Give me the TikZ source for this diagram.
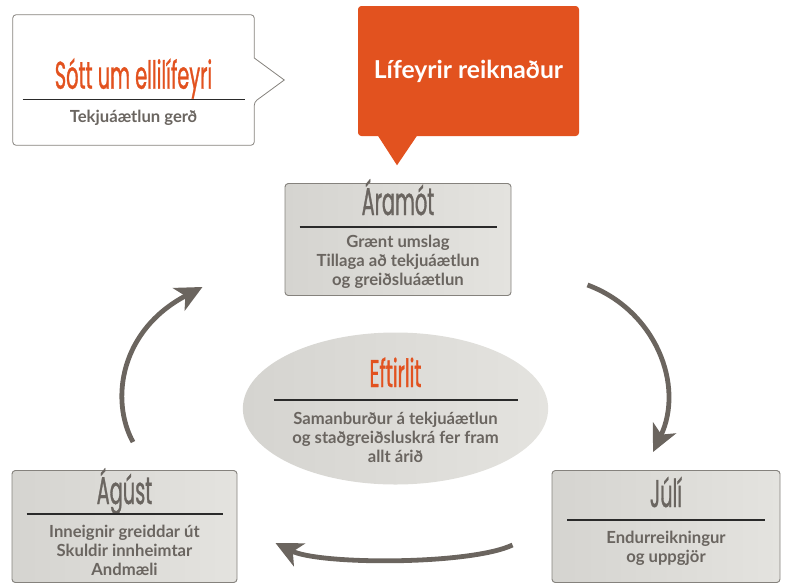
\documentclass[tikz,border=0pt]{standalone}
\usepackage{fontspec}
\setmainfont{Lato}
\newfontfamily\condfont[FakeStretch=0.5, FakeBold=0.8]{Poppins}
\usetikzlibrary{positioning,calc,arrows.meta,shapes.geometric}
\definecolor{lforange}{HTML}{E2521F}
\definecolor{lfgray}{HTML}{6A6560}
\definecolor{lfborder}{HTML}{85827D}
\definecolor{lfboxl}{HTML}{D5D4D0}
\definecolor{lfboxr}{HTML}{E4E3DF}
\definecolor{lfarrow}{HTML}{6B655F}
\definecolor{lfrule}{HTML}{2A2A2A}

\begin{document}
\begin{tikzpicture}[x=0.75pt,y=-0.75pt,
    graybox/.style={draw=lfborder, line width=0.7pt, rounded corners=2.5pt,
      left color=lfboxl, right color=lfboxr, minimum width=#1, minimum height=84pt},
    headtitle/.style={font=\condfont\fontsize{29}{32}\selectfont, text=lfgray, anchor=base,
      inner sep=0pt},
    bodytext/.style={font=\fontsize{12.5}{14.25}\selectfont\bfseries, text=lfgray, align=center},
    titlerule/.style={draw=lfrule, line width=1pt},
    cyclearrow/.style={draw=lfarrow, line width=3.6pt,
      -{Stealth[length=20pt,width=19pt,inset=5.5pt]}}]
    \useasboundingbox (0,0) rectangle (785,583);

    % callouts at the top
    \node (soett) at (133.5,80) [minimum width=180.75pt, minimum height=97.5pt] {};
    \draw[lfborder, line width=0.6pt, rounded corners=2.5pt] ($(soett.east)+(0,-22)$) -- (soett.north east)
        -- (soett.north west) -- (soett.south west) -- (soett.south east) -- ($(soett.east)+(0,22)$)
        [sharp corners] -- ($(soett.east)+(30,0)$) -- cycle;
    \node[headtitle, text=lforange] (soetttitle) at ($(soett.north)+(0,74)$) {Sótt um ellilífeyri};
    \draw[titlerule] ($(soett.north)+(-111,85)$) -- ($(soett.north)+(111,85)$);
    \node[bodytext] (soetttext) at ($(soett.north)+(0,103)$) {Tekjuáætlun gerð};

    \node (reikn) at (468.5,71) [fill=lforange, rounded corners=2.5pt, minimum width=165.75pt,
        minimum height=97.5pt, text=white, font=\fontsize{18.5}{21}\selectfont\bfseries] {Lífeyrir reiknaður};
    \fill[lforange] ($(reikn.south)+(-91.5,-2)$) -- ($(reikn.south)+(-71.5,29)$) -- ($(reikn.south)+(-50.5,-2)$) -- cycle;

    % the year
    \node[graybox=169.5pt] (aramot) at (398,239.5) {};
    \node[headtitle] (aramottitle) at ($(aramot.north)+(0,32)$) {Áramót};
    \draw[titlerule] ($(aramot.north)+(-98.5,44)$) -- ($(aramot.north)+(98.5,44)$);
    \node[bodytext] (aramottext) at ($(aramot.north)+(0,79)$) {Grænt umslag\\Tillaga að tekjuáætlun\\og greiðsluáætlun};

    \node[graybox=171pt] (juli) at (666,526.5) {};
    \node[headtitle] (julititle) at ($(juli.north)+(0,37)$) {Júlí};
    \draw[titlerule] ($(juli.north)+(-99,50)$) -- ($(juli.north)+(99,50)$);
    \node[bodytext] (julitext) at ($(juli.north)+(0,78.5)$) {Endurreikningur\\og uppgjör};

    \node[graybox=168.75pt] (agust) at (124.5,526.5) {};
    \node[headtitle] (agusttitle) at ($(agust.north)+(0,34)$) {Ágúst};
    \draw[titlerule] ($(agust.north)+(-98,44)$) -- ($(agust.north)+(98,44)$);
    \node[bodytext] (agusttext) at ($(agust.north)+(0,80)$) {Inneignir greiddar út\\Skuldir innheimtar\\Andmæli};

    \node[ellipse, left color=lfboxl, right color=lfboxr, minimum width=229pt, minimum height=114pt] (eftirlit) at (395.5,408.5) {};
    \node[headtitle, text=lforange] (eftirlittitle) at ($(eftirlit.center)+(0,-21.5)$) {Eftirlit};
    \draw[titlerule] ($(eftirlit.center)+(-122,-8.5)$) -- ($(eftirlit.center)+(122,-8.5)$);
    \node[bodytext] (eftirlittext) at ($(eftirlit.center)+(0,28.5)$) {Samanburður á tekjuáætlun\\og staðgreiðsluskrá fer fram\\allt árið};

    % arrows round the year
    \coordinate (up1) at ($(agust.north)+(8.5,-28)$);
    \coordinate (up2) at ($(aramot.south west)+(-82,-9)$);
    \coordinate (down1) at ($(aramot.south east)+(76,-11)$);
    \coordinate (down2) at ($(juli.north)+(-13,-18)$);
    \coordinate (back1) at ($(juli.west)+(-39,18.5)$);
    \coordinate (back2) at ($(agust.east)+(38,16.5)$);
    \draw[cyclearrow] (up1) .. controls (110,400) and (120,330) .. (up2);
    \draw[cyclearrow] (down1) .. controls (655,310) and (685,385) .. (down2);
    \draw[cyclearrow] (back1) .. controls (470,565) and (320,565) .. (back2);
\end{tikzpicture}
\end{document}
